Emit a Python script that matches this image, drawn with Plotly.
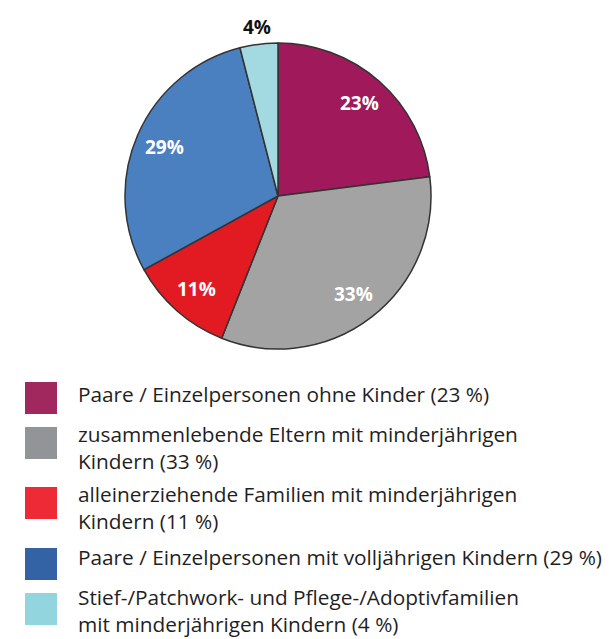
import math
import plotly.graph_objects as go

# ---- data ----
categories = [
    "Paare / Einzelpersonen ohne Kinder",
    "zusammenlebende Eltern mit minderjährigen Kindern",
    "alleinerziehende Familien mit minderjährigen Kindern",
    "Paare / Einzelpersonen mit volljährigen Kindern",
    "Stief-/Patchwork- und Pflege-/Adoptivfamilien mit minderjährigen Kindern",
]
values = [23, 33, 11, 29, 4]
legend_lines = [
    ["Paare / Einzelpersonen ohne Kinder (23 %)"],
    ["zusammenlebende Eltern mit minderjährigen", "Kindern (33 %)"],
    ["alleinerziehende Familien mit minderjährigen", "Kindern (11 %)"],
    ["Paare / Einzelpersonen mit volljährigen Kindern (29 %)"],
    ["Stief-/Patchwork- und Pflege-/Adoptivfamilien", "mit minderjährigen Kindern (4 %)"],
]
pie_colors = ["#A0195A", "#A3A3A3", "#E21B23", "#4A80C0", "#A3D9E0"]
legend_colors = ["#A1275F", "#929497", "#EE2A36", "#3363A4", "#93D5DF"]

# ---- layout constants (pixels) ----
W, H = 614, 639
cx, cy, R = 278, 196, 153
FONT = "Open Sans"

def px_x(x):
    return x / W

def px_y(y):
    return 1 - y / H

fig = go.Figure()
fig.add_trace(go.Pie(
    labels=categories,
    values=values,
    sort=False,
    direction="clockwise",
    rotation=0,
    marker=dict(colors=pie_colors, line=dict(color="#333333", width=1.5)),
    textinfo="none",
    domain=dict(x=[px_x(cx - R), px_x(cx + R)], y=[px_y(cy + R), px_y(cy - R)]),
    showlegend=False,
    hoverinfo="label+percent",
))

# slice labels placed along each slice's mid angle
total = sum(values)
cum = 0
for v in values:
    mid = (cum + v / 2) / total * 2 * math.pi
    cum += v
    if v >= 8:
        rr, col = R * 0.81, "white"
    else:
        rr, col = R * 1.115, "#111111"
    lx = cx + rr * math.sin(mid)
    ly = cy - rr * math.cos(mid)
    fig.add_annotation(x=px_x(lx), y=px_y(ly), xref="paper", yref="paper",
                       text=f"<b>{v}%</b>", showarrow=False,
                       font=dict(family=FONT, size=19, color=col),
                       xanchor="center", yanchor="middle")

# manual legend
sq_tops = [382, 427, 487, 548, 593]
sq_size = 32
sq_left = 25
text_left = 76
block_centers = [393.5, 447.0, 507.8, 557.0, 610.7]
for i, (col, lines) in enumerate(zip(legend_colors, legend_lines)):
    top = sq_tops[i]
    fig.add_shape(type="rect", xref="paper", yref="paper",
                  x0=px_x(sq_left), x1=px_x(sq_left + sq_size),
                  y0=px_y(top + sq_size), y1=px_y(top),
                  fillcolor=col, line=dict(width=0))
    fig.add_annotation(x=px_x(text_left), y=px_y(block_centers[i]),
                       xref="paper", yref="paper", text="<br>".join(lines),
                       showarrow=False, align="left",
                       xanchor="left", yanchor="middle",
                       font=dict(family=FONT, size=20.8, color="#1f1f1f"))

fig.update_layout(
    width=W, height=H,
    margin=dict(l=0, r=0, t=0, b=0),
    paper_bgcolor="white", plot_bgcolor="white",
)
fig.write_html("out.html")
